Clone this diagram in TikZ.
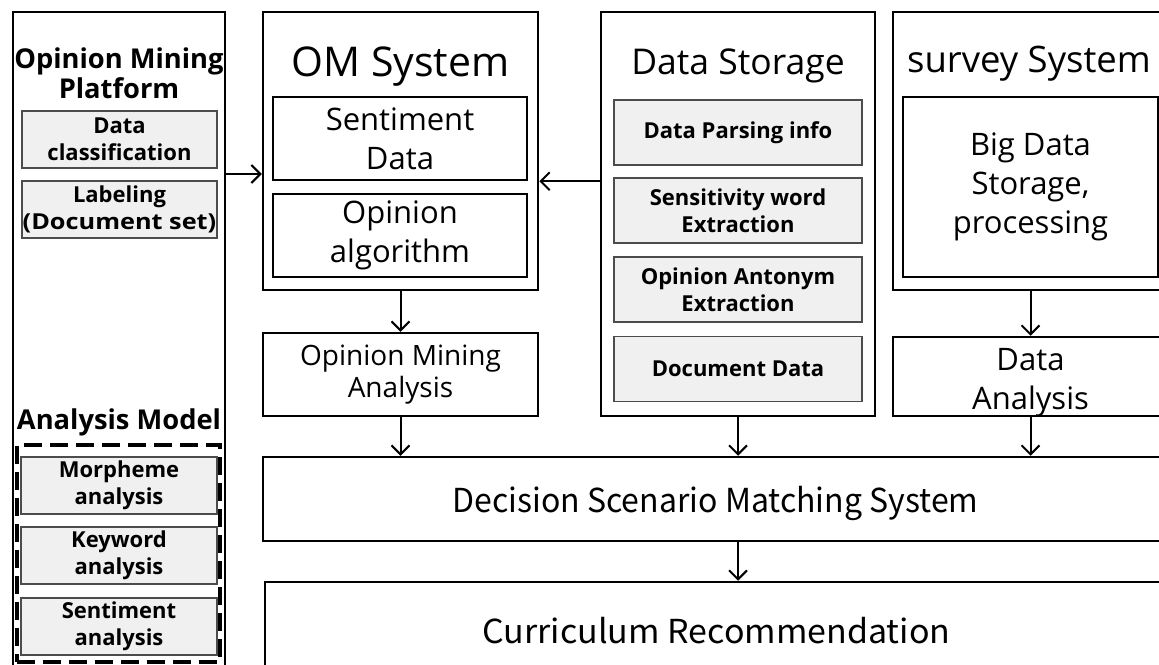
\documentclass[tikz,border=0pt]{standalone}
\usepackage{fontspec}
\setmainfont{Open Sans}
\newfontfamily\cjkfont{Noto Sans CJK KR}
\usetikzlibrary{arrows.meta}
\begin{document}
\begin{tikzpicture}[x=1pt,y=-1pt,
  box/.style={draw=black, line width=2.5pt, inner sep=0pt, align=center, fill=white},
  graybox/.style={draw=black!70, line width=1.2pt, fill=gray!12, inner sep=0pt, align=center,
    font=\bfseries\fontsize{22}{27}\selectfont},
  titleb/.style={inner sep=0pt, align=center, font=\bfseries\fontsize{27.3}{30}\selectfont},
  titlef/.style={inner sep=0pt, anchor=base},
  midtext/.style={font=\fontsize{31}{39}\selectfont},
  smalltext/.style={font=\fontsize{28}{32}\selectfont},
  bigtext/.style={font=\cjkfont\fontsize{33}{38}\selectfont},
  dashbox/.style={draw=black, line width=4pt, dash pattern=on 18pt off 8pt, inner sep=0pt},
  arr/.style={line width=2pt, -{Straight Barb[length=9pt,width=18pt,line width=2pt]}}
]
\fill[white] (0,0) rectangle (1159,664);
\useasboundingbox (0,0) rectangle (1159,664);
\clip (0,0) rectangle (1159,664);

% Left platform column
\node[box, minimum width=212pt, minimum height=688pt] (lp) at (119,356) {};
\node[titleb] (lpt) at (119,73) {Opinion Mining\\Platform};
\node[graybox, minimum width=195pt, minimum height=57pt] (dc) at (119.5,139.5) {Data\\classification};
\node[graybox, minimum width=195pt, minimum height=57pt] (lab) at (119.5,209.5) {Labeling\\\scalebox{1.15}[1]{(Document set)}};
\node[titleb] (amt) at (119,422) {Analysis Model};
\node[dashbox, minimum width=203pt, minimum height=217pt] (am) at (118.5,553.5) {};
\node[graybox, minimum width=196pt, minimum height=57pt] (mor) at (119,485.5) {Morpheme\\analysis};
\node[graybox, minimum width=196pt, minimum height=57pt] (kw) at (119,555.5) {Keyword\\analysis};
\node[graybox, minimum width=196pt, minimum height=57pt] (sen) at (119,626.5) {Sentiment\\analysis};

% OM System
\node[box, minimum width=275pt, minimum height=278pt] (om) at (400.5,151) {};
\node[titlef, font=\fontsize{41}{46}\selectfont] (omt) at (400.5,76) {OM System};
\node[box, midtext, minimum width=254pt, minimum height=83pt] (sd) at (400,138.5) {Sentiment\\Data};
\node[box, midtext, minimum width=254pt, minimum height=83pt] (oa) at (400,235.5) {Opinion\\algorithm};
\node[box, smalltext, minimum width=275pt, minimum height=83pt] (oma) at (400.5,374.5) {Opinion Mining\\Analysis};

% Data Storage
\node[box, minimum width=274pt, minimum height=404pt] (ds) at (738,214) {};
\node[titlef, font=\fontsize{35.5}{40}\selectfont] (dst) at (738,74) {Data Storage};
\node[graybox, minimum width=248pt, minimum height=65pt] (dp) at (738,132.5) {Data Parsing info};
\node[graybox, minimum width=248pt, minimum height=65pt] (sw) at (738,210.5) {Sensitivity word\\Extraction};
\node[graybox, minimum width=248pt, minimum height=65pt] (oae) at (738,289.5) {Opinion Antonym\\Extraction};
\node[graybox, minimum width=248pt, minimum height=65pt] (dd) at (738,369) {Document Data};

% survey System
\node[box, minimum width=275pt, minimum height=278pt] (sv) at (1030.5,151) {};
\node[titlef, font=\fontsize{36.5}{41}\selectfont] (svt) at (1029,72) {survey System};
\node[box, midtext, minimum width=255pt, minimum height=180pt] (bd) at (1030.5,187) {Big Data\\Storage,\\processing};
\node[box, minimum width=275pt, minimum height=79pt] (da) at (1030.5,376.5) {};
\node[midtext, inner sep=0pt, align=center] (dat) at (1030.5,383) {Data\\Analysis};

% bottom
\node[box, minimum width=905pt, minimum height=84pt] (dsms) at (715.5,499) {};
\node[bigtext, inner sep=0pt] (dsmst) at (715.5,503) {\scalebox{0.97}[1]{Decision Scenario Matching System}};
\node[box, bigtext, minimum width=903pt, minimum height=98pt] (cur) at (716.5,631) {\scalebox{1.03}[1]{Curriculum Recommendation}};

% connectors
\coordinate (ya) at (0,174);
\draw[arr] (lp.east |- ya) -- (om.west |- ya);
\draw[arr] (ds.west |- sd.south) -- (om.east |- sd.south);
\draw[arr] (om.south) -- (oma.north);
\draw[arr] (sv.south) -- (da.north);
\draw[arr] (oma.south) -- (dsms.north -| oma.south);
\draw[arr] (ds.south) -- (dsms.north -| ds.south);
\draw[arr] (da.south) -- (dsms.north -| da.south);
\draw[arr] (dsms.south -| ds.south) -- (cur.north -| ds.south);
\end{tikzpicture}
\end{document}
